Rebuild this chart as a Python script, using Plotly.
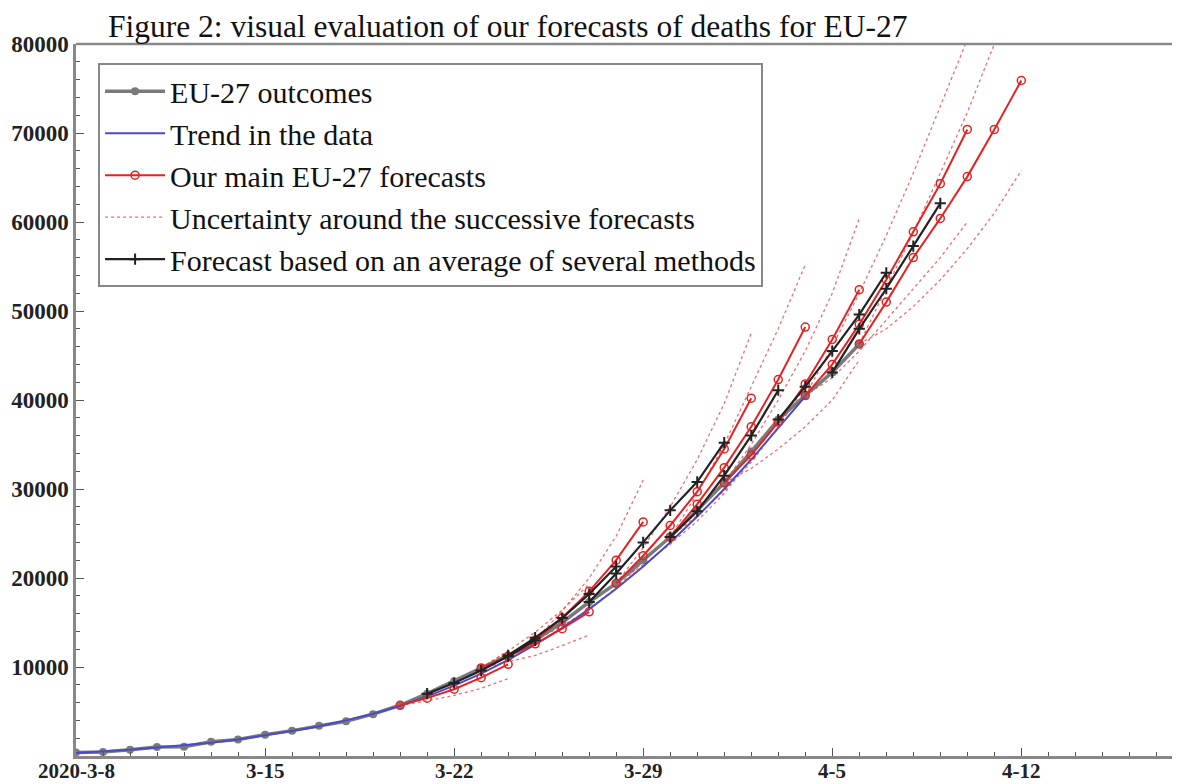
import plotly.graph_objects as go
import pandas as pd

title_text = "Figure 2: visual evaluation of our forecasts of deaths for EU-27"
first_day = "2020-03-08"
x_tick_dates = ["2020-03-08", "2020-03-15", "2020-03-22", "2020-03-29", "2020-04-05", "2020-04-12"]
x_tick_labels = ["2020-3-8", "3-15", "3-22", "3-29", "4-5", "4-12"]
y_tick_values = [10000, 20000, 30000, 40000, 50000, 60000, 70000, 80000]
y_tick_labels = ["10000", "20000", "30000", "40000", "50000", "60000", "70000", "80000"]

# EU-27 cumulative deaths, daily from 2020-03-08 to 2020-04-06
outcome_values = [400, 450, 700, 1000, 1050, 1600, 1850, 2400, 2850, 3400,
                  3900, 4700, 5700, 7000, 8400, 9900, 11300, 13000, 15000, 17300,
                  19400, 22000, 24600, 27600, 30700, 34200, 37800, 40500, 43100, 46300]

# trend in the data, daily from 2020-03-08 to 2020-04-04
trend_values = [350, 500, 700, 950, 1200, 1500, 1850, 2300, 2800, 3350,
                4000, 4750, 5650, 6700, 7900, 9250, 10800, 12500, 14400, 16500,
                18800, 21300, 24000, 26900, 30000, 33300, 36800, 40400]

# main forecasts (start date, daily values)
main_fc_starts = ["2020-03-20", "2020-03-23", "2020-03-25", "2020-03-28",
                  "2020-03-30", "2020-04-01", "2020-04-04", "2020-04-06"]
main_fc_values = [
    [5700, 6500, 7500, 8800, 10300],
    [9900, 11200, 12600, 14300, 16200],
    [13000, 15500, 18500, 22000, 26300],
    [19400, 22500, 25900, 29700, 34500, 40200],
    [24600, 28300, 32400, 37000, 42300, 48200],
    [30700, 33800, 37500, 41800, 46800, 52400],
    [40500, 44000, 48500, 53500, 58900, 64300, 70400],
    [46300, 51000, 56000, 60400, 65100, 70400, 75900],
]
upper_band_values = [
    [5700, 6900, 8300, 9900, 11800],
    [9900, 11800, 13900, 16400, 19300],
    [13000, 16300, 20000, 24700, 31000],
    [19400, 23400, 28000, 33300, 39600, 47500],
    [24600, 29500, 35000, 41500, 48000, 55200],
    [30700, 35000, 40000, 45500, 52000, 60400],
    [40500, 46000, 52000, 58500, 65500, 73000, 80500],
    [46300, 52500, 58800, 65500, 72300, 80000, 88000],
]
lower_band_values = [
    [5700, 6200, 6800, 7600, 8700],
    [9900, 10600, 11300, 12400, 13600],
    [13000, 14600, 16500, 18900, 21800],
    [19400, 21500, 23800, 26400, 29500, 33500],
    [24600, 27000, 29800, 33000, 37000, 41500],
    [30700, 32300, 34500, 37000, 40000, 44500],
    [40500, 42500, 45500, 49000, 52500, 56000, 60000],
    [46300, 48000, 50500, 53500, 57000, 61000, 65800],
]

# forecasts based on an average of several methods
avg_fc_starts = ["2020-03-21", "2020-03-24", "2020-03-27", "2020-03-30", "2020-04-03", "2020-04-05"]
avg_fc_values = [
    [7000, 8200, 9600, 11200, 13000],
    [11300, 13300, 15500, 18200, 21300],
    [17300, 20500, 24000, 27600, 30800, 35200],
    [24600, 27500, 31500, 36000, 41100],
    [37800, 41500, 45500, 49600, 54300],
    [43100, 48000, 52500, 57300, 62100],
]


def days_from(start, n):
    return pd.date_range(start, periods=n, freq="D")


SERIF = "Liberation Serif, Times New Roman, serif"
RED = "#e52222"
DOT_RED = "rgba(235,60,60,0.75)"
GRAY = "#7a7a7a"
BLUE = "#4a4ac8"
BLACK = "#222222"

fig = go.Figure()

# uncertainty bands (dotted)
first = True
for start, up, lo in zip(main_fc_starts, upper_band_values, lower_band_values):
    for vals in (up, lo):
        fig.add_trace(go.Scatter(
            x=days_from(start, len(vals)), y=vals, mode="lines",
            line=dict(color=DOT_RED, width=1.3, dash="dot"),
            name="Uncertainty around the successive forecasts",
            legendgroup="unc", showlegend=first, legendrank=4,
            hoverinfo="skip"))
        first = False

# outcomes
fig.add_trace(go.Scatter(
    x=days_from(first_day, len(outcome_values)), y=outcome_values,
    mode="lines+markers", name="EU-27 outcomes",
    line=dict(color=GRAY, width=3.5),
    marker=dict(symbol="circle", size=8, color=GRAY),
    legendrank=1))

# trend
fig.add_trace(go.Scatter(
    x=days_from(first_day, len(trend_values)), y=trend_values,
    mode="lines", name="Trend in the data",
    line=dict(color=BLUE, width=2),
    legendrank=2))

# main forecasts
first = True
for start, vals in zip(main_fc_starts, main_fc_values):
    fig.add_trace(go.Scatter(
        x=days_from(start, len(vals)), y=vals, mode="lines+markers",
        line=dict(color=RED, width=2),
        marker=dict(symbol="circle-open", size=8, color=RED, line=dict(width=1.5)),
        name="Our main EU-27 forecasts", legendgroup="main",
        showlegend=first, legendrank=3))
    first = False

# average-of-methods forecasts
first = True
for start, vals in zip(avg_fc_starts, avg_fc_values):
    fig.add_trace(go.Scatter(
        x=days_from(start, len(vals)), y=vals, mode="lines+markers",
        line=dict(color=BLACK, width=2.2),
        marker=dict(symbol="cross-thin", size=8, color=BLACK, line=dict(width=2, color=BLACK)),
        name="Forecast based on an average of several methods", legendgroup="avg",
        showlegend=first, legendrank=5))
    first = False

# x tick labels placed just under the axis line
x_label_annotations = [
    dict(x=d, y=0, xref="x", yref="paper", text=t, showarrow=False,
         xanchor="center", yanchor="middle", yshift=-15, borderpad=0,
         font=dict(family=SERIF, size=21, color="#222", weight="bold"))
    for d, t in zip(x_tick_dates, x_tick_labels)
]

# the page body has an 8px margin, so the figure is sized to fill the rest of the window
fig.update_layout(
    width=1172, height=776,
    margin=dict(l=68, r=0, t=36, b=28, autoexpand=False),
    plot_bgcolor="white", paper_bgcolor="white",
    font=dict(family=SERIF, color="#111"),
    title=dict(text=title_text, x=100 / 1172, xanchor="left", y=0.991, yanchor="top",
               font=dict(family=SERIF, size=31.5, color="#111")),
    legend=dict(x=0.02, y=0.973, xanchor="left", yanchor="top",
                bgcolor="white", bordercolor="#888", borderwidth=2,
                font=dict(family=SERIF, size=30, color="#111"),
                itemwidth=60, tracegroupgap=0),
    showlegend=True,
    annotations=x_label_annotations,
    shapes=[dict(type="line", xref="paper", yref="paper", x0=0, x1=1, y0=1, y1=1,
                 line=dict(color="#888", width=2.5))],
)

fig.update_xaxes(
    type="date", automargin=False,
    range=["2020-03-08", "2020-04-17 21:00"],
    tickvals=x_tick_dates, ticktext=x_tick_labels, showticklabels=False,
    ticks="inside", ticklen=8, tickwidth=1.2, tickcolor="#555",
    minor=dict(ticks="inside", ticklen=4, tickcolor="#555", dtick=86400000, tick0="2020-03-08",
               showgrid=False),
    showline=True, linecolor="#888", linewidth=2.5,
    showgrid=False, zeroline=False,
)
fig.update_yaxes(
    range=[0, 80000], automargin=False,
    tickvals=y_tick_values, ticktext=y_tick_labels,
    ticks="inside", ticklen=8, tickwidth=1.2, tickcolor="#555",
    minor=dict(ticks="inside", ticklen=4, tickcolor="#555", dtick=2000, showgrid=False),
    showline=True, linecolor="#888", linewidth=2.5,
    showgrid=False, zeroline=False,
    tickfont=dict(family=SERIF, size=23, color="#222", weight="bold"),
)

fig.write_html("out.html")
